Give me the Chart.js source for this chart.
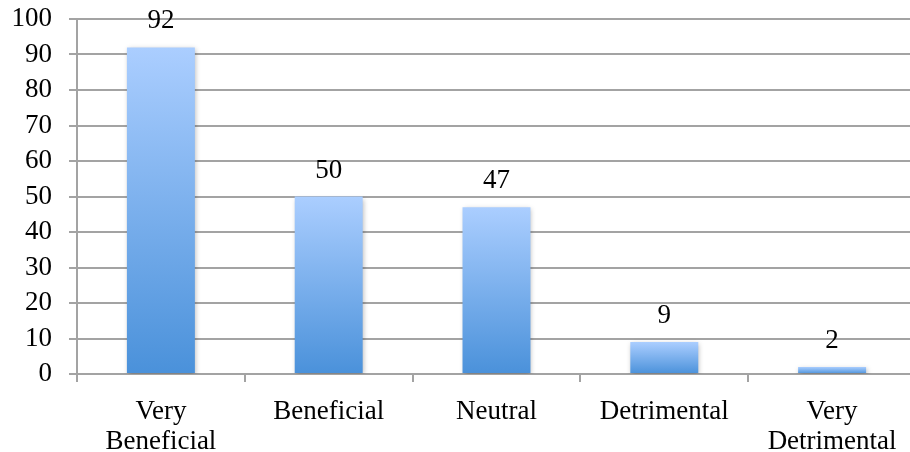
<!DOCTYPE html>
<html>
<head>
<meta charset="utf-8">
<script src="https://cdn.jsdelivr.net/npm/chart.js@4/dist/chart.umd.min.js"></script>
<style>
  html, body { margin: 0; padding: 0; background: #ffffff; overflow: hidden; }
  #wrap { width: 916px; height: 452px; }
</style>
</head>
<body>
<div id="wrap"><canvas id="chart" width="916" height="452"></canvas></div>
<script>
// Survey responses per rating category
const categories = [["Very", "Beneficial"], "Beneficial", "Neutral", "Detrimental", ["Very", "Detrimental"]];
const responses = [92, 50, 47, 9, 2];
const yTicks = [0, 10, 20, 30, 40, 50, 60, 70, 80, 90, 100];

const FONT = { family: "'Liberation Serif', serif", size: 27, lineHeight: 1.1 };
const GRID = '#a3a3a3';

// Vertical gradient per bar: light at the top, deeper blue at the base
function barGradient(context) {
  const chart = context.chart;
  const { ctx, chartArea, scales } = chart;
  if (!chartArea || !scales.y) return 'rgb(120,170,235)';
  const v = context.raw;
  const top = scales.y.getPixelForValue(v);
  const base = scales.y.getPixelForValue(0);
  const g = ctx.createLinearGradient(0, top, 0, base);
  g.addColorStop(0, 'rgb(171,206,255)');
  g.addColorStop(1, 'rgb(74,145,218)');
  return g;
}

// Soft drop shadow beneath the bars
const barShadow = {
  id: 'barShadow',
  beforeDatasetsDraw(chart) {
    const ctx = chart.ctx;
    ctx.save();
    ctx.shadowColor = 'rgba(0,0,0,0.28)';
    ctx.shadowBlur = 5;
    ctx.shadowOffsetX = 1;
    ctx.shadowOffsetY = 2;
  },
  afterDatasetsDraw(chart) {
    chart.ctx.restore();
  }
};

// Value printed above each bar
const valueLabels = {
  id: 'valueLabels',
  afterDatasetsDraw(chart) {
    const ctx = chart.ctx;
    const meta = chart.getDatasetMeta(0);
    ctx.save();
    ctx.font = FONT.size + 'px ' + FONT.family;
    ctx.fillStyle = '#000000';
    ctx.textAlign = 'center';
    ctx.textBaseline = 'alphabetic';
    meta.data.forEach((bar, i) => {
      ctx.fillText(String(responses[i]), bar.x, bar.y - 19);
    });
    ctx.restore();
  }
};

new Chart(document.getElementById('chart'), {
  type: 'bar',
  data: {
    labels: categories,
    datasets: [{
      data: responses,
      backgroundColor: barGradient,
      borderWidth: 0,
      categoryPercentage: 1,
      barPercentage: 0.405
    }]
  },
  options: {
    responsive: false,
    animation: false,
    layout: { padding: { top: 19, right: 0, left: 0, bottom: 0 } },
    plugins: { legend: { display: false }, tooltip: { enabled: false } },
    scales: {
      x: {
        grid: {
          display: true,
          drawOnChartArea: false,
          drawTicks: true,
          tickLength: 8,
          offset: true,
          color: GRID,
          lineWidth: 2
        },
        border: { display: true, color: GRID, width: 2 },
        ticks: { color: '#000000', font: FONT, padding: 15, maxRotation: 0, autoSkip: false },
        afterFit(scale) {
          scale.height = 78;
          scale.paddingLeft = 0;
          scale.paddingRight = 0;
        }
      },
      y: {
        min: 0,
        max: 100,
        afterBuildTicks(scale) { scale.ticks = yTicks.map(v => ({ value: v })); },
        grid: { color: GRID, lineWidth: 2, tickLength: 8, drawTicks: true },
        border: { display: true, color: GRID, width: 2 },
        ticks: { color: '#000000', font: FONT, padding: 17 },
        afterFit(scale) {
          scale.width = 77;
          scale.paddingTop = 0;
          scale.paddingBottom = 0;
        }
      }
    }
  },
  plugins: [barShadow, valueLabels]
});
</script>
</body>
</html>
